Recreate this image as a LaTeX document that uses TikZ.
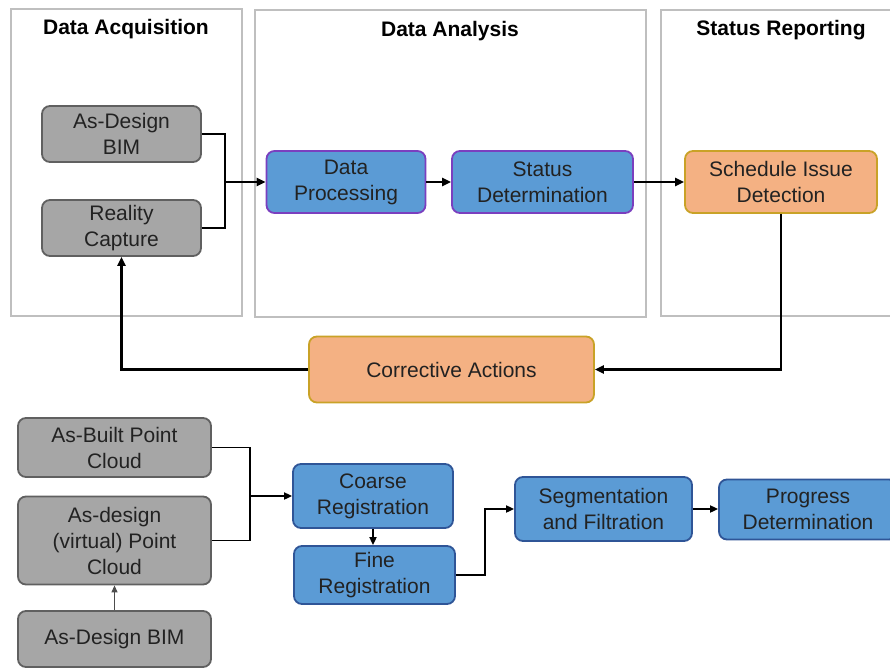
\documentclass[tikz,border=0pt]{standalone}
\usepackage{fontspec}
\setmainfont{Liberation Sans}
\usetikzlibrary{arrows.meta}
\definecolor{txt}{HTML}{222222}
\definecolor{grayfill}{HTML}{A6A6A6}
\definecolor{grayline}{HTML}{606060}
\definecolor{bluefill}{HTML}{5B9BD5}
\definecolor{purpleline}{HTML}{7A3FBF}
\definecolor{blueline}{HTML}{2F5597}
\definecolor{orangefill}{HTML}{F4B183}
\definecolor{goldline}{HTML}{C9A227}
\definecolor{panelline}{HTML}{BFBFBF}
\tikzset{
  box/.style={rectangle, rounded corners=8pt, line width=1.8pt, align=center,
    inner sep=2pt, text=txt, font=\fontsize{21}{26}\selectfont},
  graybox/.style={box, fill=grayfill, draw=grayline},
  bluetop/.style={box, fill=bluefill, draw=purpleline},
  bluebot/.style={box, fill=bluefill, draw=blueline},
  orangebox/.style={box, fill=orangefill, draw=goldline},
  panel/.style={rectangle, draw=panelline, line width=2pt, inner sep=0pt},
  ptitle/.style={font=\fontsize{21}{25}\selectfont\bfseries, text=black, inner sep=0pt},
  thickcon/.style={line width=2.6pt, -{Triangle[length=9pt,width=8pt]}},
  thickline/.style={line width=2.6pt},
  midcon/.style={line width=1.8pt, -{Triangle[length=8pt,width=7pt]}},
  midline/.style={line width=1.8pt},
  thincon/.style={line width=1.2pt, draw=grayline!80!black, -{Triangle[length=7pt,width=6pt]}},
}
\begin{document}
\begin{tikzpicture}[x=1pt,y=-1pt]
\useasboundingbox (0,0) rectangle (890,668);
\clip (0,0) rectangle (890,668);
% panels
\node[panel, minimum width=231pt, minimum height=307pt] (pA) at (126.5,162.5) {};
\node[panel, minimum width=391pt, minimum height=307pt] (pB) at (450.5,163.5) {};
\node[panel, minimum width=240pt, minimum height=306pt] (pC) at (781,163) {};
\node[ptitle] (tA) at (126,29.5) {Data Acquisition};
\node[ptitle] (tB) at (450,31.5) {Data Analysis};
\node[ptitle] (tC) at (781,30.5) {Status Reporting};
% top nodes
\node[graybox, minimum width=159pt, minimum height=56pt] (adbim) at (121.5,134) {As-Design\\BIM};
\node[graybox, minimum width=159pt, minimum height=56pt] (rc) at (121.5,228) {Reality\\Capture};
\node[bluetop, minimum width=159pt, minimum height=62pt] (dp) at (346,182) {Data\\Processing};
\node[bluetop, minimum width=181pt, minimum height=62pt] (sd) at (542.5,182) {Status\\Determination};
\node[orangebox, minimum width=192pt, minimum height=62pt] (sid) at (781,182) {Schedule Issue\\Detection};
\node[orangebox, minimum width=285pt, minimum height=66pt] (ca) at (451.5,369.5) {Corrective Actions};
% bottom nodes
\node[graybox, minimum width=193pt, minimum height=59pt] (abpc) at (114.5,447.5) {As-Built Point\\Cloud};
\node[graybox, minimum width=193pt, minimum height=88pt] (advpc) at (114.5,540.5) {As-design\\(virtual) Point\\Cloud};
\node[graybox, minimum width=193pt, minimum height=56pt] (adbim2) at (114.5,639) {As-Design BIM};
\node[bluebot, minimum width=160pt, minimum height=64pt] (coarse) at (373,496) {Coarse\\Registration};
\node[bluebot, minimum width=161pt, minimum height=58pt] (fine) at (374.5,575) {Fine\\Registration};
\node[bluebot, minimum width=177pt, minimum height=64pt] (seg) at (603.5,509) {Segmentation\\and Filtration};
\node[bluebot, minimum width=178pt, minimum height=60pt] (prog) at (808,509.5) {Progress\\Determination};
% top connectors
\coordinate (j1) at (225,182);
\draw[thickline] (adbim.east) -| (j1);
\draw[thickline] (rc.east) -| (j1);
\draw[thickcon] (j1) -- (dp.west);
\draw[thickcon] (dp.east) -- (sd.west);
\draw[thickcon] (sd.east) -- (sid.west);
\draw[thickcon] (sid.south) |- (ca.east);
\draw[thickcon] (ca.west) -| (rc.south);
% bottom connectors
\coordinate (j2) at (250,496);
\draw[midline] (abpc.east) -| (j2);
\draw[midline] (advpc.east) -| (j2);
\draw[midcon] (j2) -- (coarse.west);
\draw[midcon] (coarse.south) -- (coarse.south |- fine.north);
\coordinate (j3) at (485,575);
\draw[midcon] (fine.east) -- (j3) |- (seg.west);
\draw[midcon] (seg.east) -- (seg.east -| prog.west);
\draw[thincon] (adbim2.north) -- (advpc.south);
\end{tikzpicture}
\end{document}
